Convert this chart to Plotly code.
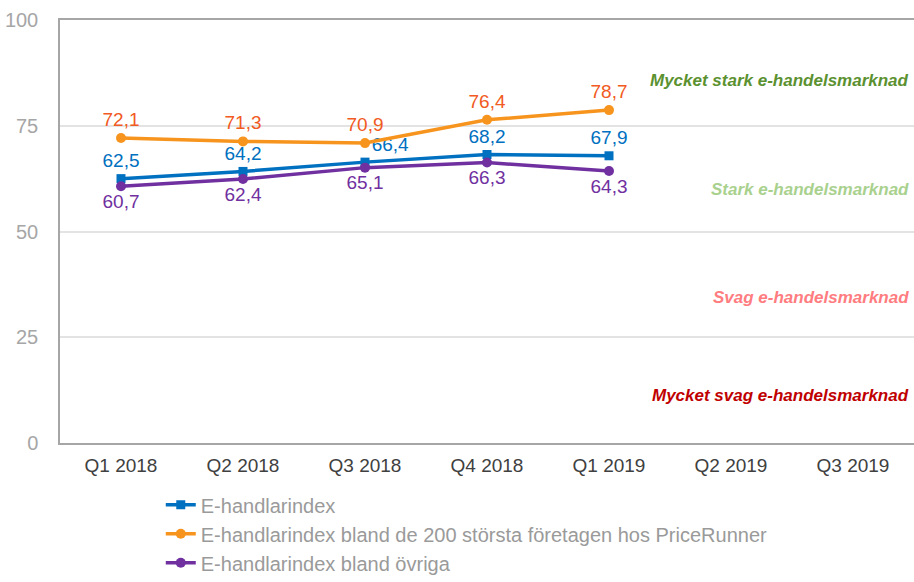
import plotly.graph_objects as go

categories = ["Q1 2018", "Q2 2018", "Q3 2018", "Q4 2018", "Q1 2019", "Q2 2019", "Q3 2019"]
e_index = [62.5, 64.2, 66.4, 68.2, 67.9]
e_top200 = [72.1, 71.3, 70.9, 76.4, 78.7]
e_other = [60.7, 62.4, 65.1, 66.3, 64.3]
y_ticks = [0, 25, 50, 75, 100]
band_labels = ["Mycket stark e-handelsmarknad", "Stark e-handelsmarknad",
               "Svag e-handelsmarknad", "Mycket svag e-handelsmarknad"]
band_y = [85.8, 60.0, 34.5, 11.3]
band_colors = ["#5b9130", "#a9d18e", "#ff7c80", "#c00000"]

def fmt(v):
    return f"{v:.1f}".replace(".", ",")

n = len(e_index)
fig = go.Figure()
fig.add_trace(go.Scatter(
    x=categories[:n], y=e_index, name="E-handlarindex", legendgroup="a",
    mode="lines+markers+text", line=dict(color="#0070c0", width=3.5),
    marker=dict(symbol="square", size=9, color="#0070c0"),
    text=[fmt(v) for v in e_index],
    textposition=["top center", "top center", "top right", "top center", "top center"],
    textfont=dict(color="#0070c0", size=19, family="Liberation Sans"),
))
fig.add_trace(go.Scatter(
    x=categories[:n], y=e_top200, name="E-handlarindex bland de 200 största företagen hos PriceRunner",
    legendgroup="b",
    mode="lines+markers+text", line=dict(color="#f7941d", width=3.5),
    marker=dict(symbol="circle", size=10, color="#f7941d"),
    text=[fmt(v) for v in e_top200], textposition="top center",
    textfont=dict(color="#f15a22", size=19, family="Liberation Sans"),
))
fig.add_trace(go.Scatter(
    x=categories[:n], y=e_other, name="E-handlarindex bland övriga", legendgroup="c",
    mode="lines+markers+text", line=dict(color="#7030a0", width=3.5),
    marker=dict(symbol="circle", size=10, color="#7030a0"),
    text=[fmt(v) for v in e_other], textposition="bottom center",
    textfont=dict(color="#7030a0", size=19, family="Liberation Sans"),
))

for lab, yv, col in zip(band_labels, band_y, band_colors):
    fig.add_annotation(x=0.997, xref="paper", y=yv, yref="y", text=f"<b><i>{lab}</i></b>",
                       showarrow=False, xanchor="right", yanchor="middle",
                       font=dict(color=col, size=17, family="Liberation Sans"))

fig.update_layout(
    width=914, height=582, margin=dict(l=60, r=0, t=20, b=139, autoexpand=False),
    plot_bgcolor="white", paper_bgcolor="white",
    font=dict(family="Liberation Sans"),
    showlegend=True,
    legend=dict(x=0.118, y=-0.1, xanchor="left", yanchor="top", orientation="v",
                tracegroupgap=0,
                font=dict(size=20, color="#9a9a9a"), bgcolor="rgba(0,0,0,0)"),
    xaxis=dict(type="category", categoryorder="array", categoryarray=categories,
               range=[-0.5, 6.5], showline=True, linecolor="#a6a6a6", linewidth=1.5,
               mirror=True, showgrid=False, ticks="",
               tickfont=dict(size=19, color="#404040"), ticklabelstandoff=4),
    yaxis=dict(range=[0, 100], tickvals=y_ticks, showline=True, linecolor="#a6a6a6",
               linewidth=1.5, gridcolor="#e3e3e3", gridwidth=1.5, zeroline=False,
               tickfont=dict(size=20, color="#a6a6a6"), ticklabelstandoff=16),
)
fig.write_html("out.html")
